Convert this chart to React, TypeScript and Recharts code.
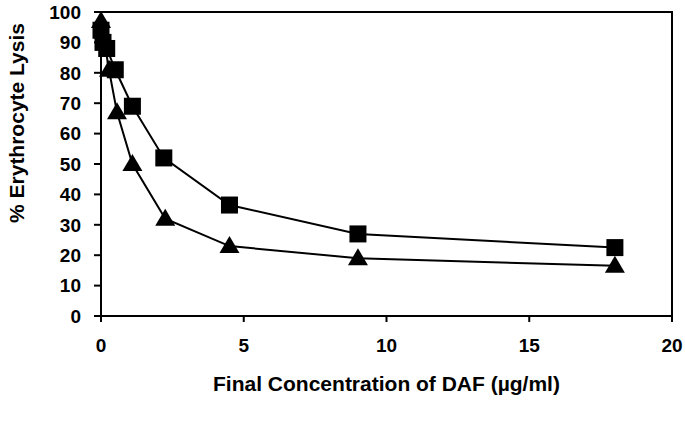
import { Label, Line, LineChart, ReferenceArea, XAxis, YAxis } from 'recharts';

const squareX = [0, 0.07, 0.2, 0.5, 1.1, 2.2, 4.5, 9, 18];
const squareY = [94, 90, 88, 81, 69, 52, 36.5, 27, 22.5];
const triangleX = [0, 0.28, 0.56, 1.1, 2.25, 4.5, 9, 18];
const triangleY = [97, 81, 67, 50, 32, 23, 19, 16.5];
const xTicks = [0, 5, 10, 15, 20];
const yTicks = [0, 10, 20, 30, 40, 50, 60, 70, 80, 90, 100];

const squares = squareX.map((x, i) => ({ x, y: squareY[i] }));
const triangles = triangleX.map((x, i) => ({ x, y: triangleY[i] }));

const font = '"Liberation Sans", Arial, sans-serif';

const SquareDot = (props: any) => {
  const { cx, cy } = props;
  if (cx == null || cy == null) return null;
  return <rect x={cx - 8.5} y={cy - 8.5} width={17} height={17} fill="#000" />;
};

const TriangleDot = (props: any) => {
  const { cx, cy } = props;
  if (cx == null || cy == null) return null;
  return <path d={`M${cx},${cy - 10} L${cx + 10},${cy + 7} L${cx - 10},${cy + 7} Z`} fill="#000" />;
};

const YTitle = () => (
  <text
    x={16}
    y={123}
    transform="rotate(-90, 16, 123)"
    textAnchor="middle"
    dominantBaseline="central"
    fill="#000"
    fontSize={21}
    fontWeight="bold"
    fontFamily={font}
  >
    % Erythrocyte Lysis
  </text>
);

export default function App() {
  return (
    <div style={{ position: 'absolute', left: 0, top: 0, background: '#fff' }}>
      <LineChart width={685} height={425} margin={{ top: 12, right: 13, left: 0, bottom: 0 }}>
        <XAxis
          dataKey="x"
          type="number"
          domain={[0, 20]}
          ticks={xTicks}
          allowDuplicatedCategory={false}
          stroke="#000"
          strokeWidth={2}
          tickSize={6}
          height={109}
          tick={{ fill: '#000', fontSize: 19, fontWeight: 'bold', fontFamily: font, dy: 15 }}
        >
          <Label
            value="Final Concentration of DAF (µg/ml)"
            position="insideBottom"
            offset={34}
            style={{ fill: '#000', fontSize: 21, fontWeight: 'bold', fontFamily: font }}
          />
        </XAxis>
        <YAxis
          dataKey="y"
          type="number"
          domain={[0, 100]}
          ticks={yTicks}
          interval={0}
          stroke="#000"
          strokeWidth={2}
          tickSize={7}
          width={101}
          tick={{ fill: '#000', fontSize: 19, fontWeight: 'bold', fontFamily: font, dx: -11 }}
        >
          <Label content={<YTitle />} />
        </YAxis>
        <ReferenceArea x1={0} x2={20} y1={0} y2={100} fill="none" stroke="#000" strokeWidth={2} />
        <Line
          data={squares}
          dataKey="y"
          stroke="#000"
          strokeWidth={2}
          dot={<SquareDot />}
          isAnimationActive={false}
        />
        <Line
          data={triangles}
          dataKey="y"
          stroke="#000"
          strokeWidth={2}
          dot={<TriangleDot />}
          isAnimationActive={false}
        />
      </LineChart>
    </div>
  );
}
